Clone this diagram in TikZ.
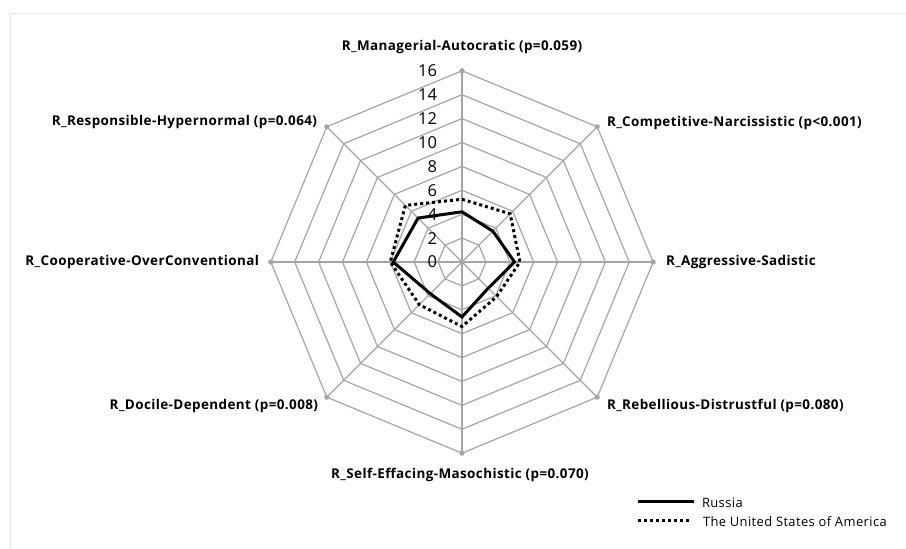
\documentclass[tikz,border=0pt]{standalone}
\usepackage{fontspec}
\setmainfont{Open Sans}
\definecolor{gridgray}{RGB}{165,165,165}
\definecolor{framegray}{RGB}{228,228,228}
\begin{document}
\begin{tikzpicture}[x=1bp, y=1bp,
  every node/.style={inner sep=0pt, outer sep=0pt},
  axislabel/.style={font=\bfseries\fontsize{13.5}{15}\selectfont\addfontfeature{LetterSpace=3}},
  ticklabel/.style={font=\fontsize{16.5}{18}\selectfont, anchor=east},
  legendlabel/.style={font=\fontsize{13}{15}\selectfont\addfontfeature{LetterSpace=3}, anchor=west},
  gridline/.style={draw=gridgray, line width=1.2bp},
  russia/.style={line width=3bp, line join=miter},
  usa/.style={line width=3bp, dash pattern=on 3bp off 3bp}]

\useasboundingbox (-462,-287) rectangle (444,262);
\draw[framegray, line width=0.8bp] (-452,-287) -- (-452,249) -- (444,249);

\begin{scope}[x=11.95bp, y=11.95bp]
\foreach \r in {2,4,...,16}
  \draw[gridline] (90:\r) -- (45:\r) -- (0:\r) -- (-45:\r) -- (-90:\r)
    -- (-135:\r) -- (180:\r) -- (135:\r) -- cycle;
\foreach \a/\n in {90/mana, 45/comp, 0/aggr, -45/rebe, -90/self, -135/doci, 180/coop, 135/resp} {
  \draw[gridline] (0,0) -- (\a:16) coordinate (\n);
  \fill[gridgray] (\n) circle (2.6bp);
}

% Russia
\draw[russia] (90:4.2) coordinate (ru1) -- (45:3.65) coordinate (ru2)
  -- (0:4.4) coordinate (ru3) -- (-45:3.1) coordinate (ru4)
  -- (-90:4.6) coordinate (ru5) -- (-135:3.75) coordinate (ru6)
  -- (180:5.75) coordinate (ru7) -- (135:5.2) coordinate (ru8) -- cycle;
% USA
\draw[usa] (90:5.25) coordinate (us1) -- (45:5.7) coordinate (us2)
  -- (0:4.85) coordinate (us3) -- (-45:4.1) coordinate (us4)
  -- (-90:5.4) coordinate (us5) -- (-135:5.05) coordinate (us6)
  -- (180:6.0) coordinate (us7) -- (135:6.7) coordinate (us8) -- cycle;

\foreach \v in {0,2,...,16}
  \node[ticklabel] (tick\v) at ([xshift=-25bp]0,\v) {\v};
\end{scope}

\node[axislabel] (lmana) at (0,215) {R\_Managerial-Autocratic (p=0.059)};
\node[axislabel, anchor=west] (lcomp) at (145,139) {R\_Competitive-Narcissistic (p<0.001)};
\node[axislabel, anchor=west] (laggr) at (204,0) {R\_Aggressive-Sadistic};
\node[axislabel, anchor=west] (lrebe) at (145,-144) {R\_Rebellious-Distrustful (p=0.080)};
\node[axislabel] (lself) at (-2,-213) {R\_Self-Effacing-Masochistic (p=0.070)};
\node[axislabel, anchor=east] (ldoci) at (-144,-144) {R\_Docile-Dependent (p=0.008)};
\node[axislabel, anchor=east] (lcoop) at (-203,0) {R\_Cooperative-OverConventional};
\node[axislabel, anchor=east] (lresp) at (-145,140) {R\_Responsible-Hypernormal (p=0.064)};

% legend
\coordinate (ruA) at (176,-240);
\coordinate (ruB) at (232,-240);
\coordinate (usA) at (176,-259);
\coordinate (usB) at (230,-259);
\draw[russia] (ruA) -- (ruB);
\draw[usa] (usA) -- (usB);
\node[legendlabel] (lru) at (240,-241) {Russia};
\node[legendlabel] (lus) at (241,-260) {The United States of America};
\end{tikzpicture}
\end{document}
